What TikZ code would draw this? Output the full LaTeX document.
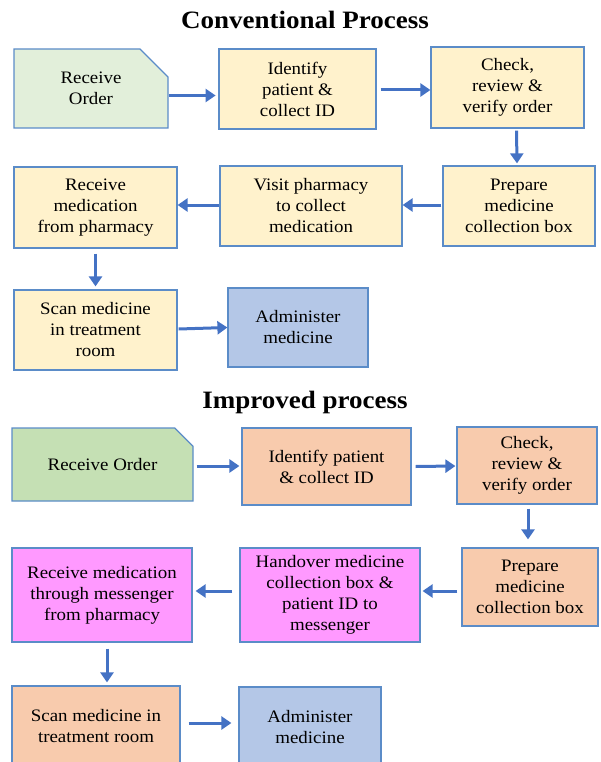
\documentclass[tikz,border=0pt]{standalone}
\usepackage{fontspec}
\setmainfont[FakeStretch=1.08]{Liberation Serif}
\usetikzlibrary{shapes.misc,arrows.meta}
\definecolor{edge}{HTML}{5B8CC8}
\definecolor{arrc}{HTML}{4472C4}
\definecolor{grA}{HTML}{E2EFDA}
\definecolor{grB}{HTML}{C5E0B4}
\definecolor{yel}{HTML}{FFF2CC}
\definecolor{org}{HTML}{F8CBAD}
\definecolor{mag}{HTML}{FF99FF}
\definecolor{blu}{HTML}{B4C7E7}

\begin{document}
\begin{tikzpicture}[x=1pt,y=-1pt,
  box/.style={draw=edge,line width=1.2pt,align=center,inner sep=1pt,font=\fontsize{17.5}{21}\selectfont},
  order/.style={box,chamfered rectangle,chamfered rectangle corners=north east,chamfered rectangle xsep=#1,chamfered rectangle ysep=#1},
  arr/.style={draw=arrc,line width=3pt,-{Triangle[length=10pt,width=13pt]}},
  title/.style={font=\bfseries\fontsize{25}{30}\selectfont}]
  \useasboundingbox (0,0) rectangle (600,762); \clip (0,0) rectangle (600,762);

  \node[title] (t1) at (305,20) {Conventional Process};
  \node[order=14pt,fill=grA,minimum width=154pt,minimum height=79pt] (r1) at (91,88.5) {Receive\\Order};
  \node[box,fill=yel,minimum width=157pt,minimum height=80pt] (i1) at (297.5,89) {Identify\\patient \&\\collect ID};
  \node[box,fill=yel,minimum width=153pt,minimum height=81pt] (c1) at (507.5,87.5) {Check,\\review \&\\verify order};
  \node[box,fill=yel,minimum width=163pt,minimum height=81pt] (m1) at (95.5,207.5) {Receive\\medication\\from pharmacy};
  \node[box,fill=yel,minimum width=182pt,minimum height=80pt] (v1) at (311,206) {Visit pharmacy\\to collect\\medication};
  \node[box,fill=yel,minimum width=152pt,minimum height=80pt] (p1) at (519,206) {Prepare\\medicine\\collection box};
  \node[box,fill=yel,minimum width=163pt,minimum height=80pt] (s1) at (95.5,330) {Scan medicine\\in treatment\\room};
  \node[box,fill=blu,minimum width=140pt,minimum height=79pt] (a1) at (298,327.5) {Administer\\medicine};

  \draw[arr] (r1.east) ++(0,7) -- +(47,0);
  \draw[arr] (i1.east) ++(4,1) -- (c1.west |- 0,90);
  \draw[arr] (c1.south) ++(9,2) -- ([yshift=2pt]p1.north -| 517,0);
  \draw[arr] (p1.west) ++(-1,-1) -- (v1.east |- 0,205);
  \draw[arr] (v1.west) ++(0,-1) -- (m1.east |- 0,205);
  \draw[arr] (m1.south) ++(0,5) -- ([yshift=3pt]s1.north);
  \draw[arr] (s1.east) ++(1,-1) -- (a1.west);

  \node[title] (t2) at (305,402) {Improved process};
  \node[order=11pt,fill=grB,minimum width=181pt,minimum height=73pt] (r2) at (102.5,464.5) {Receive Order};
  \node[box,fill=org,minimum width=169pt,minimum height=77pt] (i2) at (326.5,466.5) {Identify patient\\\& collect ID};
  \node[box,fill=org,minimum width=140pt,minimum height=77pt] (c2) at (527,465.5) {Check,\\review \&\\verify order};
  \node[box,fill=mag,minimum width=180pt,minimum height=94pt] (m2) at (102,595) {Receive medication\\through messenger\\from pharmacy};
  \node[box,fill=mag,minimum width=180pt,minimum height=94pt] (h2) at (330,595) {Handover medicine\\collection box \&\\patient ID to\\messenger};
  \node[box,fill=org,minimum width=136pt,minimum height=78pt] (p2) at (530,587) {Prepare\\medicine\\collection box};
  \node[box,fill=org,minimum width=168pt,minimum height=80pt] (s2) at (96,726) {Scan medicine in\\treatment room};
  \node[box,fill=blu,minimum width=142pt,minimum height=80pt] (a2) at (310,727) {Administer\\medicine};

  \draw[arr] (r2.east) ++(3,1.5) -- ([xshift=-2pt]i2.west |- 0,466);
  \draw[arr] (i2.east) ++(4,0) -- ([xshift=-1pt]c2.west |- 0,466);
  \draw[arr] (c2.south) ++(1,4) -- ([yshift=8pt]p2.north -| 528,0);
  \draw[arr] (p2.west) ++(-4,4) -- ([xshift=2pt]h2.east |- 0,591);
  \draw[arr] (h2.west) ++(-7,-4) -- ([xshift=3pt]m2.east |- 0,591);
  \draw[arr] (m2.south) ++(5,6) -- ([yshift=3pt]s2.north -| 107,0);
  \draw[arr] (s2.east) ++(8,-3) -- ([xshift=-7pt]a2.west |- 0,723);
\end{tikzpicture}
\end{document}
